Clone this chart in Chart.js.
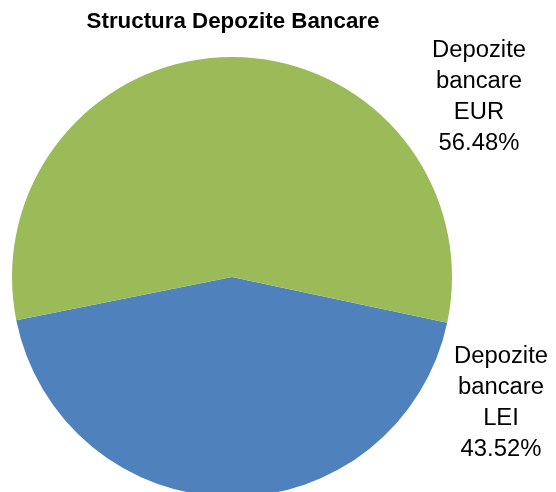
<!DOCTYPE html>
<html>
<head>
<meta charset="utf-8">
<script src="https://cdn.jsdelivr.net/npm/chart.js@4.4.1/dist/chart.umd.min.js"></script>
<style>
  html, body { margin: 0; padding: 0; background: #ffffff; overflow: hidden; }
  #wrap { width: 556px; height: 492px; position: relative; overflow: hidden; }
</style>
</head>
<body>
<div id="wrap"><canvas id="pieChart" width="556" height="500"></canvas></div>
<script>
/* data */

const chartTitle = "Structura Depozite Bancare";
const categories = ["Depozite bancare LEI", "Depozite bancare EUR"];
const shareValues = [43.52, 56.48];
const sliceColors = ["#4f81bd", "#9bbb59"];

/* label positions (centre of each text block) */

const labelSpots = [
    { x: 501, y: 356 },
    { x: 479, y: 50 }
];

function fitFont(ctx, text, targetWidth, weight, family) {
    let size = 30;
    ctx.font = `${weight} ${size}px ${family}`;
    const w = ctx.measureText(text).width;
    size = size * targetWidth / w;
    return `${weight} ${size.toFixed(2)}px ${family}`;
}

const textPlugin = {
    id: "textPlugin",
    afterDraw(chart) {
        const ctx = chart.ctx;
        ctx.save();
        ctx.fillStyle = "#000000";
        ctx.textAlign = "center";
        ctx.textBaseline = "middle";

        ctx.font = fitFont(ctx, chartTitle, 293, "bold", "'Liberation Sans'");
        ctx.fillText(chartTitle, 233, 22);

        ctx.font = fitFont(ctx, "Depozite", 94, "normal", "'Liberation Sans'");
        chart.data.labels.forEach((label, i) => {
            const words = label.split(" ");
            const lines = [words[0], words[1], words.slice(2).join(" "), shareValues[i].toFixed(2) + "%"];
            const spot = labelSpots[i];
            lines.forEach((line, j) => {
                ctx.fillText(line, spot.x, spot.y + j * 31);
            });
        });
        ctx.restore();
    }
};

new Chart(document.querySelector("#pieChart"), {
    type: "pie",
    data: {
        labels: categories,
        datasets: [
            {
                data: shareValues,
                backgroundColor: sliceColors,
                borderWidth: 0
            }
        ]
    },
    options: {
        responsive: false,
        animation: false,
        rotation: 102,
        layout: {
            padding: { left: 12, right: 104, top: 57, bottom: 3 }
        },
        plugins: {
            legend: { display: false },
            tooltip: { enabled: false }
        }
    },
    plugins: [textPlugin]
});
</script>
</body>
</html>
